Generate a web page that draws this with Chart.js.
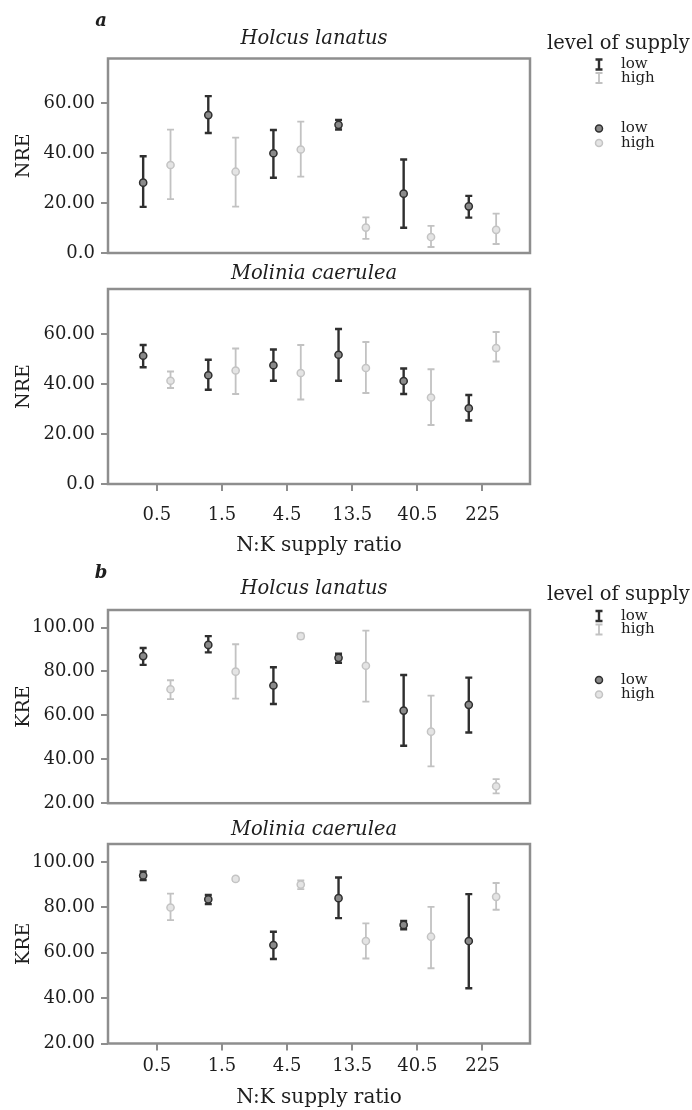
<!DOCTYPE html>
<html>
<head>
<meta charset="utf-8">
<script src="https://cdn.jsdelivr.net/npm/chart.js@4.4.0/dist/chart.umd.min.js"></script>
<style>
  body { margin: 0; background: #fff; }
  #page { position: relative; width: 692px; height: 1110px; overflow: hidden; }
  .panel { position: absolute; left: 0; width: 692px; }
</style>
</head>
<body>
<div id="page">
  <div class="panel" style="top:0;height:270px"><canvas id="nreHolcus"></canvas></div>
  <div class="panel" style="top:255px;height:305px"><canvas id="nreMolinia"></canvas></div>
  <div class="panel" style="top:550px;height:270px"><canvas id="kreHolcus"></canvas></div>
  <div class="panel" style="top:815px;height:295px"><canvas id="kreMolinia"></canvas></div>
</div>
<script>
// N:K supply ratios (categories)
const ratioLabels = ['0.5', '1.5', '4.5', '13.5', '40.5', '225'];

// y tick values
const nreTicks = [0, 20, 40, 60];
const kreTicks = [20, 40, 60, 80, 100];

// NRE, Holcus lanatus: mean and error bar ends
const nreHolcusLowMean  = [28.2, 55.3, 40.0, 51.4, 23.8, 18.7];
const nreHolcusLowLo    = [18.5, 48.1, 30.2, 49.5, 10.1, 14.2];
const nreHolcusLowHi    = [38.8, 62.9, 49.3, 53.4, 37.5, 22.9];
const nreHolcusHighMean = [35.3, 32.6, 41.5, 10.2, 6.4, 9.3];
const nreHolcusHighLo   = [21.6, 18.6, 30.6, 5.7, 2.4, 3.6];
const nreHolcusHighHi   = [49.5, 46.3, 52.7, 14.3, 10.9, 15.8];

// NRE, Molinia caerulea
const nreMoliniaLowMean  = [51.3, 43.5, 47.5, 51.7, 41.2, 30.3];
const nreMoliniaLowLo    = [46.7, 37.7, 41.3, 41.3, 36.0, 25.4];
const nreMoliniaLowHi    = [55.6, 49.7, 53.8, 62.0, 46.2, 35.6];
const nreMoliniaHighMean = [41.3, 45.4, 44.4, 46.4, 34.6, 54.4];
const nreMoliniaHighLo   = [38.4, 36.0, 33.8, 36.4, 23.6, 49.0];
const nreMoliniaHighHi   = [45.0, 54.2, 55.6, 56.8, 45.9, 60.8];

// KRE, Holcus lanatus
const kreHolcusLowMean  = [87.0, 92.1, 73.6, 86.2, 62.2, 64.8];
const kreHolcusLowLo    = [83.0, 88.7, 65.2, 84.0, 46.2, 52.2];
const kreHolcusLowHi    = [90.7, 96.1, 81.9, 88.1, 78.4, 77.2];
const kreHolcusHighMean = [71.9, 79.9, 96.1, 82.6, 52.6, 27.7];
const kreHolcusHighLo   = [67.4, 67.6, 95.0, 66.3, 36.8, 24.5];
const kreHolcusHighHi   = [76.0, 92.4, 97.3, 98.6, 69.0, 31.0];

// KRE, Molinia caerulea
const kreMoliniaLowMean  = [94.1, 83.6, 63.4, 84.1, 72.3, 65.2];
const kreMoliniaLowLo    = [92.1, 81.5, 57.3, 75.3, 70.4, 44.4];
const kreMoliniaLowHi    = [95.9, 85.5, 69.3, 93.2, 74.1, 85.9];
const kreMoliniaHighMean = [80.0, 92.6, 90.1, 65.2, 67.1, 84.7];
const kreMoliniaHighLo   = [74.4, 91.6, 88.1, 57.5, 53.2, 79.0];
const kreMoliniaHighHi   = [86.1, 93.3, 91.9, 73.0, 80.3, 90.8];

const SERIF = "'DejaVu Serif', serif";
const INK = '#1e1e1e';
const FRAME = '#8e8e8e';
const LOW = { bar: '#2f2f2f', fill: '#8a8a8a', edge: '#2f2f2f', width: 2.4 };
const HIGH = { bar: '#c2c2c2', fill: '#e4e4e4', edge: '#c4c4c4', width: 1.8 };
const SHIFT = 0.21;   // low/high offset within a ratio group
const CAP = 3.5;

Chart.defaults.font.family = SERIF;
Chart.defaults.color = INK;

function drawBar(ctx, x, top, bot, style) {
  ctx.save();
  ctx.strokeStyle = style.bar;
  ctx.lineWidth = style.width;
  ctx.beginPath();
  ctx.moveTo(x, top); ctx.lineTo(x, bot);
  ctx.moveTo(x - CAP, top); ctx.lineTo(x + CAP, top);
  ctx.moveTo(x - CAP, bot); ctx.lineTo(x + CAP, bot);
  ctx.stroke();
  ctx.restore();
}

function drawDot(ctx, x, y, style) {
  ctx.save();
  ctx.fillStyle = style.fill;
  ctx.strokeStyle = style.edge;
  ctx.lineWidth = 1.5;
  ctx.beginPath();
  ctx.arc(x, y, 3.5, 0, Math.PI * 2);
  ctx.fill();
  ctx.stroke();
  ctx.restore();
}

// frame + error bars under the points
const errorBars = {
  id: 'errorBars',
  beforeDatasetsDraw(chart) {
    const { ctx, chartArea: a, scales: { x, y } } = chart;
    ctx.save();
    ctx.strokeStyle = FRAME;
    ctx.lineWidth = 2.5;
    ctx.strokeRect(a.left, a.top, a.right - a.left, a.bottom - a.top);
    ctx.restore();
    chart.data.datasets.forEach(ds => {
      ds.data.forEach((pt, j) => {
        drawBar(ctx, x.getPixelForValue(pt.x),
          y.getPixelForValue(ds.upper[j]), y.getPixelForValue(ds.lower[j]), ds.style);
      });
    });
  }
};

// panel title, panel letter and the supply-level legend
const panelDecor = {
  id: 'panelDecor',
  afterDraw(chart, args, opts) {
    const { ctx, chartArea: a } = chart;
    ctx.save();
    ctx.fillStyle = INK;
    ctx.textBaseline = 'middle';
    ctx.textAlign = 'center';
    ctx.font = `italic 19.5px ${SERIF}`;
    ctx.fillText(opts.title, (a.left + a.right) / 2 - 5, a.top - opts.titleGap);
    if (opts.letter) {
      ctx.font = `italic bold 18px ${SERIF}`;
      ctx.fillText(opts.letter, 101, a.top - 37);
    }
    if (opts.legend) {
      const t = a.top;
      ctx.textAlign = 'left';
      ctx.font = `19.5px ${SERIF}`;
      ctx.fillText('level of supply', 547, t - 15);
      ctx.font = `15px ${SERIF}`;
      const rows = [
        { y: t + 6, label: 'low', style: LOW, bar: true },
        { y: t + 19.5, label: 'high', style: HIGH, bar: true },
        { y: t + 70, label: 'low', style: LOW, bar: false },
        { y: t + 84.5, label: 'high', style: HIGH, bar: false }
      ];
      rows.forEach(r => {
        if (r.bar) drawBar(ctx, 599, r.y - 5, r.y + 5, r.style);
        else drawDot(ctx, 599, r.y, r.style);
        ctx.fillStyle = INK;
        ctx.fillText(r.label, 621, r.y);
      });
    }
    ctx.restore();
  }
};

function series(means, lo, hi, shift, style, label) {
  return {
    label,
    data: means.map((m, i) => ({ x: i + shift, y: m })),
    lower: lo,
    upper: hi,
    style,
    pointRadius: 3.6,
    pointHoverRadius: 3.6,
    pointBorderWidth: 1.5,
    pointBackgroundColor: style.fill,
    pointBorderColor: style.edge,
    showLine: false
  };
}

function makePanel(id, cfg) {
  return new Chart(document.getElementById(id), {
    type: 'scatter',
    data: {
      datasets: [
        series(cfg.lowMean, cfg.lowLo, cfg.lowHi, -SHIFT, LOW, 'low'),
        series(cfg.highMean, cfg.highLo, cfg.highHi, SHIFT, HIGH, 'high')
      ]
    },
    options: {
      responsive: true,
      maintainAspectRatio: false,
      animation: false,
      events: [],
      layout: { padding: { left: 13, right: 162, top: cfg.padTop, bottom: cfg.padBottom } },
      plugins: {
        legend: { display: false },
        tooltip: { enabled: false },
        panelDecor: { title: cfg.title, titleGap: cfg.titleGap, letter: cfg.letter, legend: !!cfg.letter }
      },
      scales: {
        x: {
          type: 'linear',
          min: -0.75,
          max: 5.73,
          afterBuildTicks: s => { s.ticks = ratioLabels.map((_, i) => ({ value: i })); },
          afterFit: s => { s.height = cfg.xHeight; },
          ticks: {
            display: cfg.showX,
            callback: v => ratioLabels[v],
            font: { size: 18 },
            color: INK,
            padding: cfg.xTickPad,
            maxRotation: 0
          },
          grid: { drawOnChartArea: false, drawTicks: cfg.showX, tickLength: 7, color: FRAME, lineWidth: 2 },
          border: { display: false },
          title: { display: cfg.showX, text: 'N:K supply ratio', font: { size: 20 }, color: INK, padding: { top: 0, bottom: cfg.xTitlePad } }
        },
        y: {
          min: cfg.yMin,
          max: cfg.yMax,
          afterBuildTicks: s => { s.ticks = cfg.yTicks.map(v => ({ value: v })); },
          afterFit: s => { s.width = 95; },
          ticks: {
            callback: v => (v === 0 ? '0.0' : v.toFixed(2)),
            font: { size: 18 },
            color: INK,
            padding: 6
          },
          grid: { drawOnChartArea: false, tickLength: 7, color: FRAME, lineWidth: 2 },
          border: { display: false },
          title: { display: true, text: cfg.yTitle, font: { size: 19 }, color: INK, padding: 0 }
        }
      }
    },
    plugins: [errorBars, panelDecor]
  });
}

makePanel('nreHolcus', {
  title: 'Holcus lanatus', letter: 'a', titleGap: 20, yTitle: 'NRE',
  yMin: 0, yMax: 78, yTicks: nreTicks,
  lowMean: nreHolcusLowMean, lowLo: nreHolcusLowLo, lowHi: nreHolcusLowHi,
  highMean: nreHolcusHighMean, highLo: nreHolcusHighLo, highHi: nreHolcusHighHi,
  padTop: 58.5, padBottom: 17, xHeight: 0, showX: false, xTickPad: 0, xTitlePad: 0
});

makePanel('nreMolinia', {
  title: 'Molinia caerulea', titleGap: 15, yTitle: 'NRE',
  yMin: 0, yMax: 78, yTicks: nreTicks,
  lowMean: nreMoliniaLowMean, lowLo: nreMoliniaLowLo, lowHi: nreMoliniaLowHi,
  highMean: nreMoliniaHighMean, highLo: nreMoliniaHighLo, highHi: nreMoliniaHighHi,
  padTop: 34, padBottom: 0, xHeight: 76, showX: true, xTickPad: 14, xTitlePad: 2.5
});

makePanel('kreHolcus', {
  title: 'Holcus lanatus', letter: 'b', titleGap: 21, yTitle: 'KRE',
  yMin: 20, yMax: 108, yTicks: kreTicks,
  lowMean: kreHolcusLowMean, lowLo: kreHolcusLowLo, lowHi: kreHolcusLowHi,
  highMean: kreHolcusHighMean, highLo: kreHolcusHighLo, highHi: kreHolcusHighHi,
  padTop: 60, padBottom: 12.7, xHeight: 0, showX: false, xTickPad: 0, xTitlePad: 0
});

makePanel('kreMolinia', {
  title: 'Molinia caerulea', titleGap: 14, yTitle: 'KRE',
  yMin: 20, yMax: 108, yTicks: kreTicks,
  lowMean: kreMoliniaLowMean, lowLo: kreMoliniaLowLo, lowHi: kreMoliniaLowHi,
  highMean: kreMoliniaHighMean, highLo: kreMoliniaHighLo, highHi: kreMoliniaHighHi,
  padTop: 29, padBottom: 0, xHeight: 66.5, showX: true, xTickPad: 5, xTitlePad: 0
});
</script>
</body>
</html>
